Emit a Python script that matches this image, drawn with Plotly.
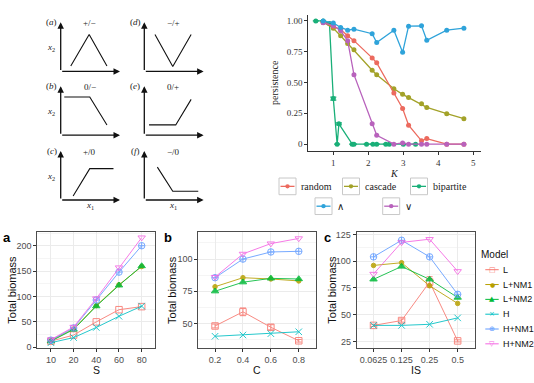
import plotly.graph_objects as go

W, H = 534, 383
def px(x): return x / W
def py(y): return 1 - y / H

SERIF = "Liberation Serif"
SANS = "Liberation Sans"

# ---------------- schematic panels (a)-(f) ----------------
schem_labels = ["(<i>a</i>)", "(<i>b</i>)", "(<i>c</i>)", "(<i>d</i>)", "(<i>e</i>)", "(<i>f</i>)"]
schem_titles = ["+/\u2212", "0/\u2212", "+/0", "\u2212/+", "0/+", "\u2212/0"]
schem_x = [[0.17, 0.48, 0.78], [0.06, 0.49, 0.78], [0.21, 0.49, 0.89],
           [0.18, 0.48, 0.79], [0.08, 0.53, 0.79], [0.22, 0.48, 0.91]]
schem_y = [[0.11, 0.75, 0.11], [0.78, 0.78, 0.21], [0.08, 0.64, 0.64],
           [0.75, 0.10, 0.75], [0.21, 0.21, 0.73], [0.67, 0.18, 0.18]]

# ---------------- persistence vs K ----------------
K_common = [0.71, 1.0, 1.21, 1.41, 1.59, 2.11, 2.24, 2.73, 2.98, 3.15, 3.52, 3.67, 4.24, 4.73]
p_random = [0.99, 0.955, 0.93, 0.88, 0.84, 0.70, 0.66, 0.415, 0.29, 0.154, 0.027, 0.045, 0.0, 0.0]
p_cascade = [0.99, 0.94, 0.88, 0.816, 0.766, 0.60, 0.564, 0.45, 0.404, 0.378, 0.327, 0.298, 0.247, 0.207]
p_up = [1.0, 0.984, 0.947, 0.925, 0.933, 0.896, 0.824, 0.925, 0.745, 0.957, 0.96, 0.843, 0.925, 0.941]
p_down = [0.985, 0.963, 0.92, 0.84, 0.564, 0.165, 0.072, 0.0, 0.01, 0.0, 0.0, 0.0, 0.0, 0.0]
K_bip = [0.50, 0.71, 0.89, 1.0, 1.11, 1.16, 1.54, 1.59, 1.95, 2.13, 2.24, 2.5, 2.6, 3.0, 3.35]
p_bip = [1.0, 1.0, 0.98, 0.37, 0.0, 0.165, 0, 0, 0, 0, 0, 0, 0, 0, 0]
p_bip_err = [0, 0, 0, 0.012, 0, 0.008, 0, 0, 0, 0, 0, 0, 0, 0, 0]
top_names = ["random", "cascade", "bipartite", "\u2227", "\u2228"]
top_colors = ["#EC6A5E", "#A3A229", "#19AF78", "#2FA3DA", "#B862BC"]

# ---------------- total biomass panels ----------------
models = ["L", "L+NM1", "L+NM2", "H", "H+NM1", "H+NM2"]
model_colors = ["#F8766D", "#B79F00", "#00BA38", "#00BFC4", "#619CFF", "#F564E3"]
model_symbols = ["square-open", "circle", "triangle-up", "x-thin-open", "circle-cross-open", "triangle-down-open"]
model_glyphs = ["\u25a1", "\u25cf", "\u25b2", "\u00d7", "\u2295", "\u25bd"]

S_labels = ["10", "20", "40", "60", "80"]
a_vals = [
    [12, 24, 50, 74, 80],
    [13, 36, 82, 123, 159],
    [12, 35, 81, 122, 160],
    [9, 19, 39, 61, 81],
    [14, 38, 93, 148, 200],
    [15, 40, 96, 157, 216],
]
C_labels = ["0.2", "0.4", "0.6", "0.8"]
b_vals = [
    [48, 59, 47, 36.5],
    [78.5, 85.5, 84.5, 83],
    [75, 82, 85, 84.5],
    [40, 41, 42, 43.5],
    [85.5, 100, 105.5, 106],
    [86, 104, 112, 116],
]
b_err_L = [1.5, 3, 2, 1]
IS_labels = ["0.0625", "0.125", "0.25", "0.5"]
c_vals = [
    [40, 44.5, 80.5, 25.5],
    [96, 98.5, 77, 60.5],
    [83, 95, 83, 66],
    [40, 40, 41, 47],
    [104, 119.5, 104, 69],
    [88, 117.5, 120.5, 90.5],
]
c_err_L = [1, 1.5, 5, 1]

fig = go.Figure()
layout = dict(width=W, height=H, margin=dict(l=0, r=0, t=0, b=0),
              paper_bgcolor="white", plot_bgcolor="rgba(0,0,0,0)", showlegend=False)
annotations = []
shapes = []


def label(x, y, text, family, size, color="#222", xanchor="center", angle=0):
    annotations.append(dict(x=px(x), y=py(y), xref="paper", yref="paper", text=text,
                            xanchor=xanchor, yanchor="middle", textangle=angle, showarrow=False,
                            font=dict(family=family, size=size, color=color)))


# schematic panels
col_x0 = [60.7, 144.3]
row_top = [20.7, 85.7, 151.7]
pw, ph = 59.3, 50.0
for i in range(6):
    col, row = i // 3, i % 3
    n = i + 1
    xa, ya = f"x{n}", f"y{n}"
    x0 = col_x0[col]
    top = row_top[row]
    layout[f"xaxis{n}"] = dict(domain=[px(x0), px(x0 + pw)], range=[0, 1], visible=False, anchor=ya, fixedrange=True)
    layout[f"yaxis{n}"] = dict(domain=[py(top + ph), py(top)], range=[0, 1], visible=False, anchor=xa, fixedrange=True)
    fig.add_trace(go.Scatter(x=schem_x[i], y=schem_y[i], mode="lines", xaxis=xa, yaxis=ya,
                             line=dict(color="#111", width=1.1), hoverinfo="skip"))
    for (tx, ty) in [(1, 0), (0, 1)]:
        annotations.append(dict(x=tx, y=ty, ax=0, ay=0, xref=xa, yref=ya, axref=xa, ayref=ya,
                                text="", showarrow=True, arrowhead=2, arrowsize=1.0,
                                arrowwidth=1.3, arrowcolor="#111"))
    label(x0 - 9, top, schem_labels[i], SERIF, 9)
    label(x0 + 29, top + 1, schem_titles[i], SERIF, 9)
    if col == 0:
        label(x0 - 10, top + 26, "<i>x</i><sub>2</sub>", SERIF, 9)
    if row == 2:
        label(x0 + 29, top + 56, "<i>x</i><sub>1</sub>", SERIF, 9)

# persistence panel
layout["xaxis7"] = dict(domain=[px(308.3), px(480.7)], range=[0.286, 5.21], anchor="y7",
                        tickvals=[1, 2, 3, 4, 5], ticks="outside", ticklen=3, tickcolor="#333",
                        showline=True, linecolor="#333", linewidth=1, showgrid=False, zeroline=False,
                        tickfont=dict(family=SERIF, size=9, color="#333"), fixedrange=True)
layout["yaxis7"] = dict(domain=[py(151.7), py(13)], range=[-0.055, 1.05], anchor="x7",
                        tickvals=[0, 0.25, 0.5, 0.75, 1.0], ticktext=["0", "0.25", "0.50", "0.75", "1.00"],
                        ticks="outside", ticklen=3, tickcolor="#333",
                        showline=True, linecolor="#333", linewidth=1, showgrid=False, zeroline=False,
                        tickfont=dict(family=SERIF, size=9, color="#333"), fixedrange=True)
top_series = [(K_common, p_random, None), (K_common, p_cascade, None), (K_bip, p_bip, p_bip_err),
              (K_common, p_up, None), (K_common, p_down, None)]
draw_order = [2, 1, 0, 4, 3]
for idx in draw_order:
    kx, ky, ke = top_series[idx]
    tr = go.Scatter(x=kx, y=ky, mode="lines+markers", xaxis="x7", yaxis="y7",
                    line=dict(color=top_colors[idx], width=1.3),
                    marker=dict(color=top_colors[idx], size=5), name=top_names[idx])
    if ke is not None:
        tr.error_y = dict(type="data", array=ke, color=top_colors[idx], thickness=1.2, width=3)
    fig.add_trace(tr)
label(275, 82.5, "persistence", SERIF, 10, angle=-90)
label(394.5, 175, "<i>K</i>", SERIF, 10)

# top legend (manual keys)
leg_pos = [(279, 187.8), (342.5, 187.8), (410.5, 187.8), (315, 208), (382.7, 208)]
for j, (lx, ly) in enumerate(leg_pos):
    shapes.append(dict(type="rect", xref="paper", yref="paper", x0=px(lx), x1=px(lx + 17),
                       y0=py(ly + 8.5), y1=py(ly - 8.5), line=dict(color="#C8C8C8", width=1),
                       fillcolor="white"))
    shapes.append(dict(type="line", xref="paper", yref="paper", x0=px(lx + 1.5), x1=px(lx + 15.5),
                       y0=py(ly), y1=py(ly), line=dict(color=top_colors[j], width=1.3)))
    shapes.append(dict(type="circle", xref="paper", yref="paper", x0=px(lx + 6.3), x1=px(lx + 10.7),
                       y0=py(ly + 2.2), y1=py(ly - 2.2), line=dict(color=top_colors[j], width=0),
                       fillcolor=top_colors[j]))
    label(lx + 20, ly, top_names[j], SERIF, 10, xanchor="left")

# biomass panels
panels = [
    dict(n=8, xd=(37.3, 155.3), labels=S_labels, vals=a_vals, err=None, yr=[-1.2, 227],
         ytick=[0, 50, 100, 150, 200], xt="S", xtx=96.3, yt_x=11.7, letter="a", lx=6.7),
    dict(n=9, xd=(198.3, 315.5), labels=C_labels, vals=b_vals, err=b_err_L, yr=[31, 121],
         ytick=[50, 75, 100], xt="C", xtx=256.5, yt_x=172, letter="b", lx=168.3),
    dict(n=10, xd=(356.7, 474.5), labels=IS_labels, vals=c_vals, err=c_err_L, yr=[19, 127.2],
         ytick=[25, 50, 75, 100, 125], xt="IS", xtx=416, yt_x=331.7, letter="c", lx=327),
]
ytop, ybot = 234.3, 352.3
for p in panels:
    n = p["n"]
    xa, ya = f"x{n}", f"y{n}"
    ncat = len(p["labels"])
    step = p["ytick"][1] - p["ytick"][0]
    minor_vals = [v + step / 2 for v in [p["ytick"][0] - step] + p["ytick"]]
    layout[f"xaxis{n}"] = dict(domain=[px(p["xd"][0]), px(p["xd"][1])], anchor=ya, type="category",
                               categoryorder="array", categoryarray=p["labels"],
                               range=[-0.6, ncat - 0.4], ticks="outside", ticklen=3, tickcolor="#333",
                               showline=True, mirror=True, linecolor="#4D4D4D", linewidth=1,
                               showgrid=True, gridcolor="#EBEBEB", gridwidth=1, zeroline=False,
                               tickfont=dict(family=SANS, size=9, color="#4D4D4D"), fixedrange=True)
    layout[f"yaxis{n}"] = dict(domain=[py(ybot), py(ytop)], anchor=xa, range=p["yr"],
                               tickvals=p["ytick"], ticks="outside", ticklen=3, tickcolor="#333",
                               showline=True, mirror=True, linecolor="#4D4D4D", linewidth=1,
                               showgrid=True, gridcolor="#EBEBEB", gridwidth=1, zeroline=False,
                               minor=dict(tickvals=minor_vals, showgrid=True, gridcolor="#F5F5F5",
                                          gridwidth=0.6, ticks=""),
                               tickfont=dict(family=SANS, size=9, color="#4D4D4D"), fixedrange=True)
    for m in range(len(models)):
        sym = model_symbols[m]
        size = 4.5 if m == 1 else 6.5
        tr = go.Scatter(x=p["labels"], y=p["vals"][m], mode="lines+markers", xaxis=xa, yaxis=ya,
                        line=dict(color=model_colors[m], width=1),
                        marker=dict(symbol=sym, size=size, color=model_colors[m],
                                    line=dict(color=model_colors[m], width=1)),
                        name=models[m], opacity=0.85)
        if m == 0 and p["err"] is not None:
            tr.error_y = dict(type="data", array=p["err"], color=model_colors[m], thickness=1, width=3)
        fig.add_trace(tr)
    label(p["xtx"], 374.8, p["xt"], SANS, 10.5, color="#111")
    label(p["yt_x"], (ytop + ybot) / 2, "Total biomass", SANS, 11, color="#111", angle=-90)
    label(p["lx"], 240, "<b>" + p["letter"] + "</b>", SANS, 13, color="#000")

# bottom legend (manual keys)
label(479, 256.7, "Model", SANS, 10, color="#111", xanchor="left")
for m in range(len(models)):
    ly = 272.7 + m * 15.1
    shapes.append(dict(type="line", xref="paper", yref="paper", x0=px(485.3), x1=px(498.7),
                       y0=py(ly), y1=py(ly), line=dict(color=model_colors[m], width=1)))
    label(492, ly, model_glyphs[m], "DejaVu Sans", 6 if m == 1 else 7, color=model_colors[m])
    label(500.7, ly, models[m], SANS, 9, color="#111", xanchor="left")

layout["annotations"] = annotations
layout["shapes"] = shapes
fig.update_layout(**layout)
fig.write_html("out.html", config={"displayModeBar": False},
               post_script="document.body.style.margin='0';")
